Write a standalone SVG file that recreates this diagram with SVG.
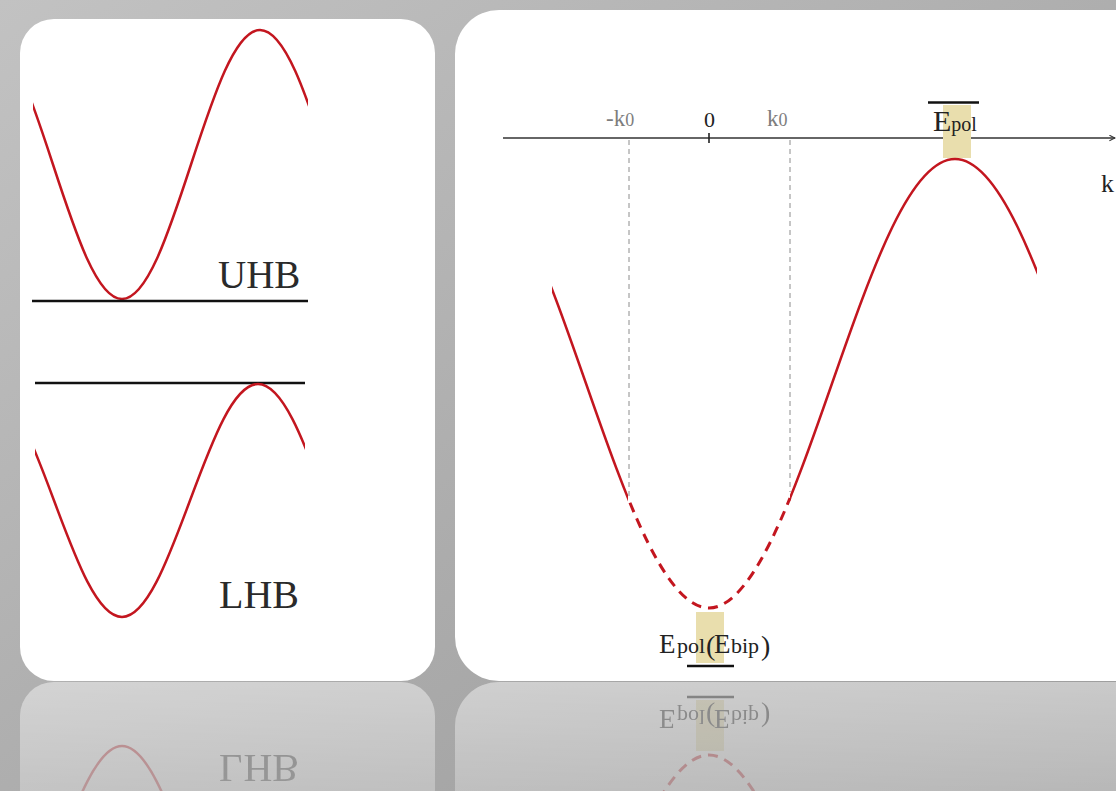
<svg xmlns="http://www.w3.org/2000/svg" xmlns:xlink="http://www.w3.org/1999/xlink" width="1116" height="791" viewBox="0 0 1116 791">
<style>
.card{fill:#ffffff}
.wave{fill:none;stroke:#c3161f;stroke-width:2.5}
.dwave{fill:none;stroke:#c3161f;stroke-width:3;stroke-dasharray:10 7}
.band{font-family:"Liberation Serif",serif;fill:#2a2a2a}
.edge{stroke:#111111;stroke-width:2.4}
.guide{stroke:#8c8c8c;stroke-width:1;stroke-dasharray:5 4}
.lbl{font-family:"Liberation Serif",serif}
.beige{fill:#e9dead}
</style>
<defs>
<linearGradient id="bg" x1="0" y1="0" x2="1" y2="1">
<stop offset="0" stop-color="#c2c2c2"/>
<stop offset="0.55" stop-color="#acacac"/>
<stop offset="1" stop-color="#9c9c9c"/>
</linearGradient>
<path id="unitcos" vector-effect="non-scaling-stroke" d="M-3.1416 -1 C-2.5791 -1 -2.0959 -0.5251 -1.5708 0 C-1.0457 0.5251 -0.5625 1 0 1 C0.5625 1 1.0457 0.5251 1.5708 0 C2.0959 -0.5251 2.5791 -1 3.1416 -1 C3.7041 -1 4.1873 -0.5251 4.7124 0 C5.2375 0.5251 5.7207 1 6.2832 1"/>
<clipPath id="clipU" clipPathUnits="userSpaceOnUse"><rect x="33" y="0" width="275" height="400"/></clipPath>
<clipPath id="clipL" clipPathUnits="userSpaceOnUse"><rect x="35" y="330" width="270" height="340"/></clipPath>
<clipPath id="clipR" clipPathUnits="userSpaceOnUse"><rect x="552" y="0" width="76" height="700"/><rect x="790" y="0" width="247" height="700"/></clipPath>
<clipPath id="clipRefl" clipPathUnits="userSpaceOnUse"><rect x="0" y="682" width="1116" height="109"/></clipPath>
<linearGradient id="fadeGrad" gradientUnits="userSpaceOnUse" x1="0" y1="682" x2="0" y2="791">
<stop offset="0" stop-color="#ffffff" stop-opacity="0.45"/>
<stop offset="1" stop-color="#ffffff" stop-opacity="0.28"/>
</linearGradient>
<linearGradient id="fadeH" gradientUnits="userSpaceOnUse" x1="455" y1="0" x2="1116" y2="0">
<stop offset="0" stop-color="#ffffff" stop-opacity="1"/>
<stop offset="1" stop-color="#ffffff" stop-opacity="0.45"/>
</linearGradient>
<mask id="fade" maskUnits="userSpaceOnUse" x="0" y="682" width="1116" height="109">
<rect x="0" y="682" width="1116" height="109" fill="url(#fadeGrad)"/>
</mask>
<marker id="arr" viewBox="0 0 10 10" refX="9" refY="5" markerWidth="7" markerHeight="7" markerUnits="userSpaceOnUse" orient="auto">
<path d="M1 1 L9 5 L1 9" fill="none" stroke="#333333" stroke-width="1.5"/>
</marker>
</defs>
<rect x="0" y="0" width="1116" height="791" fill="url(#bg)"/>
<g id="panels">
<g id="left-panel">
<rect id="leftCard" class="card" x="20" y="19" width="415" height="662" rx="34"/>
<g id="uhb-curve" clip-path="url(#clipU)"><use xlink:href="#unitcos" class="wave" transform="translate(122 164.5) scale(43.93 134.5)"/></g>
<line id="uhb-edge" class="edge" x1="32" y1="301" x2="308" y2="301"/>
<text id="uhb-label" class="band" x="218" y="288" font-size="39">UHB</text>
<line id="lhb-edge" class="edge" x1="35" y1="383" x2="305" y2="383"/>
<g id="lhb-curve" clip-path="url(#clipL)"><use xlink:href="#unitcos" class="wave" transform="translate(122 500.5) scale(43.29 116.5)"/></g>
<text id="lhb-label" class="band" x="219" y="608" font-size="40">LHB</text>
</g>
<g id="right-panel">
<rect id="rightCard" class="card" x="455" y="10" width="720" height="671" rx="44"/>
<g id="axis">
<line x1="503" y1="138" x2="1115" y2="138" stroke="#333333" stroke-width="1.5" marker-end="url(#arr)"/>
<line x1="709" y1="133" x2="709" y2="143" stroke="#222222" stroke-width="1.6"/>
<line class="guide" x1="629" y1="140" x2="629" y2="497"/>
<line class="guide" x1="790" y1="140" x2="790" y2="492"/>
</g>
<text id="lbl-mk0" class="lbl" x="606" y="126" fill="#7d7d7d"><tspan font-size="23">-k</tspan><tspan font-size="18">0</tspan></text>
<text id="lbl-0" class="lbl" x="704" y="127" font-size="22" fill="#222222">0</text>
<text id="lbl-k0" class="lbl" x="767" y="126" fill="#7d7d7d"><tspan font-size="23">k</tspan><tspan font-size="18">0</tspan></text>
<text id="lbl-k" class="lbl" x="1101" y="192" font-size="26" fill="#222222">k</text>
<g id="epol-top">
<rect class="beige" x="943" y="105" width="28" height="53"/>
<line class="edge" x1="928" y1="102.5" x2="979" y2="102.5"/>
<text class="lbl" x="933" y="131" fill="#222222"><tspan font-size="30">E</tspan><tspan font-size="20">pol</tspan></text>
</g>
<g id="dispersion">
<g clip-path="url(#clipR)"><use xlink:href="#unitcos" class="wave" transform="translate(709 383.5) scale(78.30 224.5)"/></g>
<path class="dwave" d="M628 498 C655 564.5 682 608 709 608 C736 608 763 564.5 790 498" stroke-dashoffset="-5"/>
</g>
<g id="epol-bottom">
<rect class="beige" x="696" y="612" width="28" height="51"/>
<line class="edge" x1="687" y1="666" x2="734" y2="666"/>
<text class="lbl" y="653" fill="#222222"><tspan x="659" font-size="27">E</tspan><tspan x="677" font-size="22">pol</tspan><tspan x="706" font-size="28" y="655">(</tspan><tspan x="714" y="653" font-size="27">E</tspan><tspan x="731" font-size="22">bip</tspan><tspan x="761" font-size="28" y="655">)</tspan></text>
</g>
</g>
</g>
<g id="reflection" clip-path="url(#clipRefl)">
<g mask="url(#fade)">
<g transform="matrix(1 0 0 -1 0 1363)">
<use xlink:href="#panels"/>
<use xlink:href="#leftCard" opacity="0.3"/>
<use xlink:href="#rightCard" opacity="0.3"/>
</g>
</g>
</g>
</svg>
